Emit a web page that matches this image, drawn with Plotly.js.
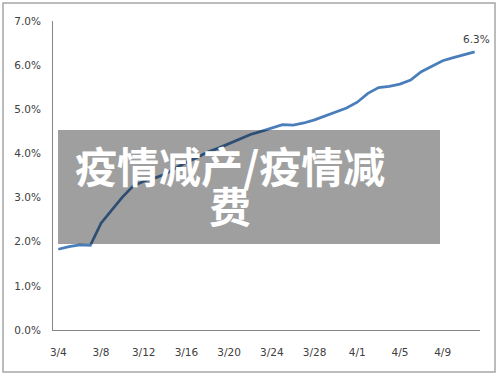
<!DOCTYPE html>
<html>
<head>
<meta charset="utf-8">
<script src="https://cdn.plot.ly/plotly-3.0.1.min.js"></script>
<style>html,body{margin:0;padding:0;background:#fff;}#chart{width:500px;height:375px;}</style>
</head>
<body>
<div id="chart"></div>
<script>
// Dates (categories) from 3/4 to 4/12
var dates = ["3/4","3/5","3/6","3/7","3/8","3/9","3/10","3/11","3/12","3/13",
             "3/14","3/15","3/16","3/17","3/18","3/19","3/20","3/21","3/22","3/23",
             "3/24","3/25","3/26","3/27","3/28","3/29","3/30","3/31","4/1","4/2",
             "4/3","4/4","4/5","4/6","4/7","4/8","4/9","4/10","4/11","4/12"];
// Series values (%)
var values = [1.83,1.89,1.93,1.92,2.42,2.71,3.01,3.26,3.37,3.44,
              3.53,3.67,3.80,3.91,4.03,4.12,4.22,4.32,4.43,4.50,
              4.57,4.65,4.64,4.69,4.76,4.85,4.94,5.03,5.16,5.36,
              5.49,5.52,5.57,5.66,5.85,5.97,6.10,6.17,6.24,6.30];
// Tick labels shown on the x axis
var xTickLabels = ["3/4","3/8","3/12","3/16","3/20","3/24","3/28","4/1","4/5","4/9"];
var yTickVals = [0,1,2,3,4,5,6,7];
var yTickText = ["0.0%","1.0%","2.0%","3.0%","4.0%","5.0%","6.0%","7.0%"];
var lastLabel = "6.3%";
var overlayLine1 = "疫情减产/疫情减";
var overlayLine2 = "费";

var xIdx = dates.map(function(d, i){ return i; });
var xTickVals = xTickLabels.map(function(l){ return dates.indexOf(l); });

var trace = {
  x: xIdx, y: values, type: 'scatter', mode: 'lines',
  line: {color: '#4a7ebb', width: 2.75},
  hoverinfo: 'skip', showlegend: false
};

var tickFont = {family: 'DejaVu Sans, Liberation Sans, sans-serif', size: 10.5, color: '#404040'};
var overlayFont = {family: 'Noto Sans CJK SC, sans-serif', size: 42, color: '#ffffff', weight: 'bold'};

var layout = {
  width: 500, height: 375,
  margin: {l: 53, r: 20, t: 21, b: 45},
  paper_bgcolor: '#ffffff', plot_bgcolor: '#ffffff',
  xaxis: {
    range: [-0.5, dates.length - 0.5],
    tickmode: 'array', tickvals: xTickVals, ticktext: xTickLabels,
    showgrid: false, zeroline: false, showline: true, linecolor: '#868686', linewidth: 1,
    ticks: '', tickfont: tickFont, ticklabelstandoff: 12, fixedrange: true
  },
  yaxis: {
    range: [0, 7],
    tickmode: 'array', tickvals: yTickVals, ticktext: yTickText,
    showgrid: false, zeroline: false, showline: true, linecolor: '#868686', linewidth: 1,
    ticks: '', tickfont: tickFont, ticklabelstandoff: 9, fixedrange: true
  },
  shapes: [
    {type: 'rect', xref: 'paper', yref: 'paper',
     x0: (3-53)/427, x1: (495-53)/427, y0: (330-372)/309, y1: (330-3)/309,
     line: {color: '#a6a6a6', width: 1.5}, fillcolor: 'rgba(0,0,0,0)', layer: 'below'},
    {type: 'rect', xref: 'paper', yref: 'paper',
     x0: (58-53)/427, x1: (440-53)/427, y0: (330-244)/309, y1: (330-130)/309,
     line: {width: 0}, fillcolor: 'rgba(0,0,0,0.375)', layer: 'above'}
  ],
  annotations: [
    {x: xIdx[xIdx.length-1], y: values[values.length-1], xref: 'x', yref: 'y',
     text: lastLabel, showarrow: false, yanchor: 'bottom', xanchor: 'center',
     yshift: 5, xshift: 2, font: tickFont},
    {x: (230-53)/427, y: (330-164)/309, xref: 'paper', yref: 'paper',
     text: overlayLine1, showarrow: false, xanchor: 'center', yanchor: 'middle',
     font: overlayFont},
    {x: (230-53)/427, y: (330-204)/309, xref: 'paper', yref: 'paper',
     text: overlayLine2, showarrow: false, xanchor: 'center', yanchor: 'middle',
     font: overlayFont}
  ]
};

Plotly.newPlot('chart', [trace], layout, {staticPlot: true, displayModeBar: false});
</script>
</body>
</html>
